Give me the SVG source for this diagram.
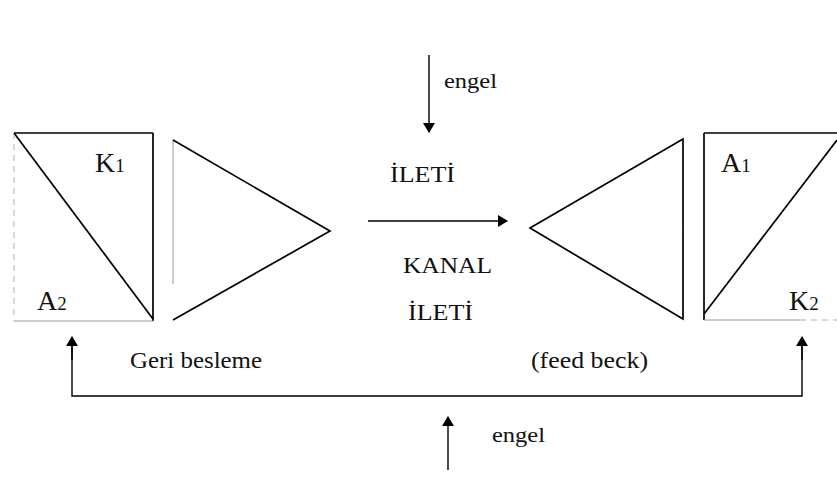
<svg xmlns="http://www.w3.org/2000/svg" width="837" height="481" viewBox="0 0 837 481">
  <defs>
    <marker id="head" viewBox="0 0 10 12" refX="9" refY="6" markerWidth="10" markerHeight="12" markerUnits="userSpaceOnUse" orient="auto">
      <path d="M0,0 L10,6 L0,12 z" fill="#000"/>
    </marker>
  </defs>
  <style>
    .ln { stroke: #000; stroke-width: 1.7; fill: none; }
    .faint { stroke: #9a9a9a; stroke-width: 1; fill: none; }
    .dash { stroke: #b0b0b0; stroke-width: 1; fill: none; stroke-dasharray: 6 5; }
    .arr { stroke: #000; stroke-width: 1.4; fill: none; marker-end: url(#head); }
    text { font-family: "Liberation Serif", "Times New Roman", serif; fill: #111; }
    .big { font-size: 28px; }
    .bsub { font-size: 19px; }
    .lbl { font-size: 24px; }
    .sm { font-size: 22px; }
  </style>

  <rect width="837" height="481" fill="#fff"/>

  <!-- sender block: box split by a diagonal -->
  <g id="sender">
    <line class="ln" x1="14" y1="133" x2="153" y2="133"/>
    <line class="ln" x1="153" y1="133" x2="153" y2="321"/>
    <line class="faint" x1="14" y1="321" x2="153" y2="321"/>
    <line class="dash" x1="14" y1="133" x2="14" y2="321"/>
    <line class="ln" x1="14" y1="133" x2="153" y2="319"/>
    <text class="big" x="95" y="172">K<tspan class="bsub">1</tspan></text>
    <text class="big" x="37" y="310">A<tspan class="bsub">2</tspan></text>
  </g>

  <!-- transmitter triangle -->
  <g id="transmitter">
    <line class="faint" x1="173" y1="140" x2="173" y2="284"/>
    <polyline class="ln" points="173,140 330,231 173,320"/>
  </g>

  <!-- receiver triangle -->
  <g id="receiver">
    <polygon class="ln" points="683,139 530,228 683,319"/>
  </g>

  <!-- addressee block -->
  <g id="addressee">
    <line class="ln" x1="704" y1="133" x2="837" y2="133"/>
    <line class="ln" x1="704" y1="133" x2="704" y2="320"/>
    <line class="faint" x1="704" y1="320" x2="800" y2="320"/>
    <line class="dash" x1="800" y1="320" x2="837" y2="320"/>
    <line class="ln" x1="704" y1="314" x2="837" y2="140"/>
    <text class="big" x="721" y="172">A<tspan class="bsub">1</tspan></text>
    <text class="big" x="789" y="310">K<tspan class="bsub">2</tspan></text>
  </g>

  <!-- channel labels -->
  <g id="channel">
    <text class="lbl" x="390" y="182" textLength="65" lengthAdjust="spacingAndGlyphs">İLETİ</text>
    <text class="lbl" x="403" y="273" textLength="89" lengthAdjust="spacingAndGlyphs">KANAL</text>
    <text class="lbl" x="408" y="320" textLength="65" lengthAdjust="spacingAndGlyphs">İLETİ</text>
    <text class="sm" x="444" y="88" textLength="53" lengthAdjust="spacingAndGlyphs">engel</text>
    <text class="sm" x="492" y="442" textLength="53" lengthAdjust="spacingAndGlyphs">engel</text>
    <text class="lbl" x="130" y="368" textLength="132" lengthAdjust="spacingAndGlyphs">Geri besleme</text>
    <text class="lbl" x="531" y="368" textLength="117" lengthAdjust="spacingAndGlyphs">(feed beck)</text>
  </g>

  <!-- connectors -->
  <g id="connectors">
    <line class="arr" x1="368" y1="221" x2="507" y2="221"/>
    <line class="arr" x1="429" y1="55" x2="429" y2="132"/>
    <polyline class="ln" points="72,346 72,396 802,396 802,346" style="stroke-width:1.4"/>
    <line class="arr" x1="72" y1="360" x2="72" y2="337"/>
    <line class="arr" x1="802" y1="360" x2="802" y2="337"/>
    <line class="arr" x1="448" y1="470" x2="448" y2="417"/>
  </g>
</svg>
